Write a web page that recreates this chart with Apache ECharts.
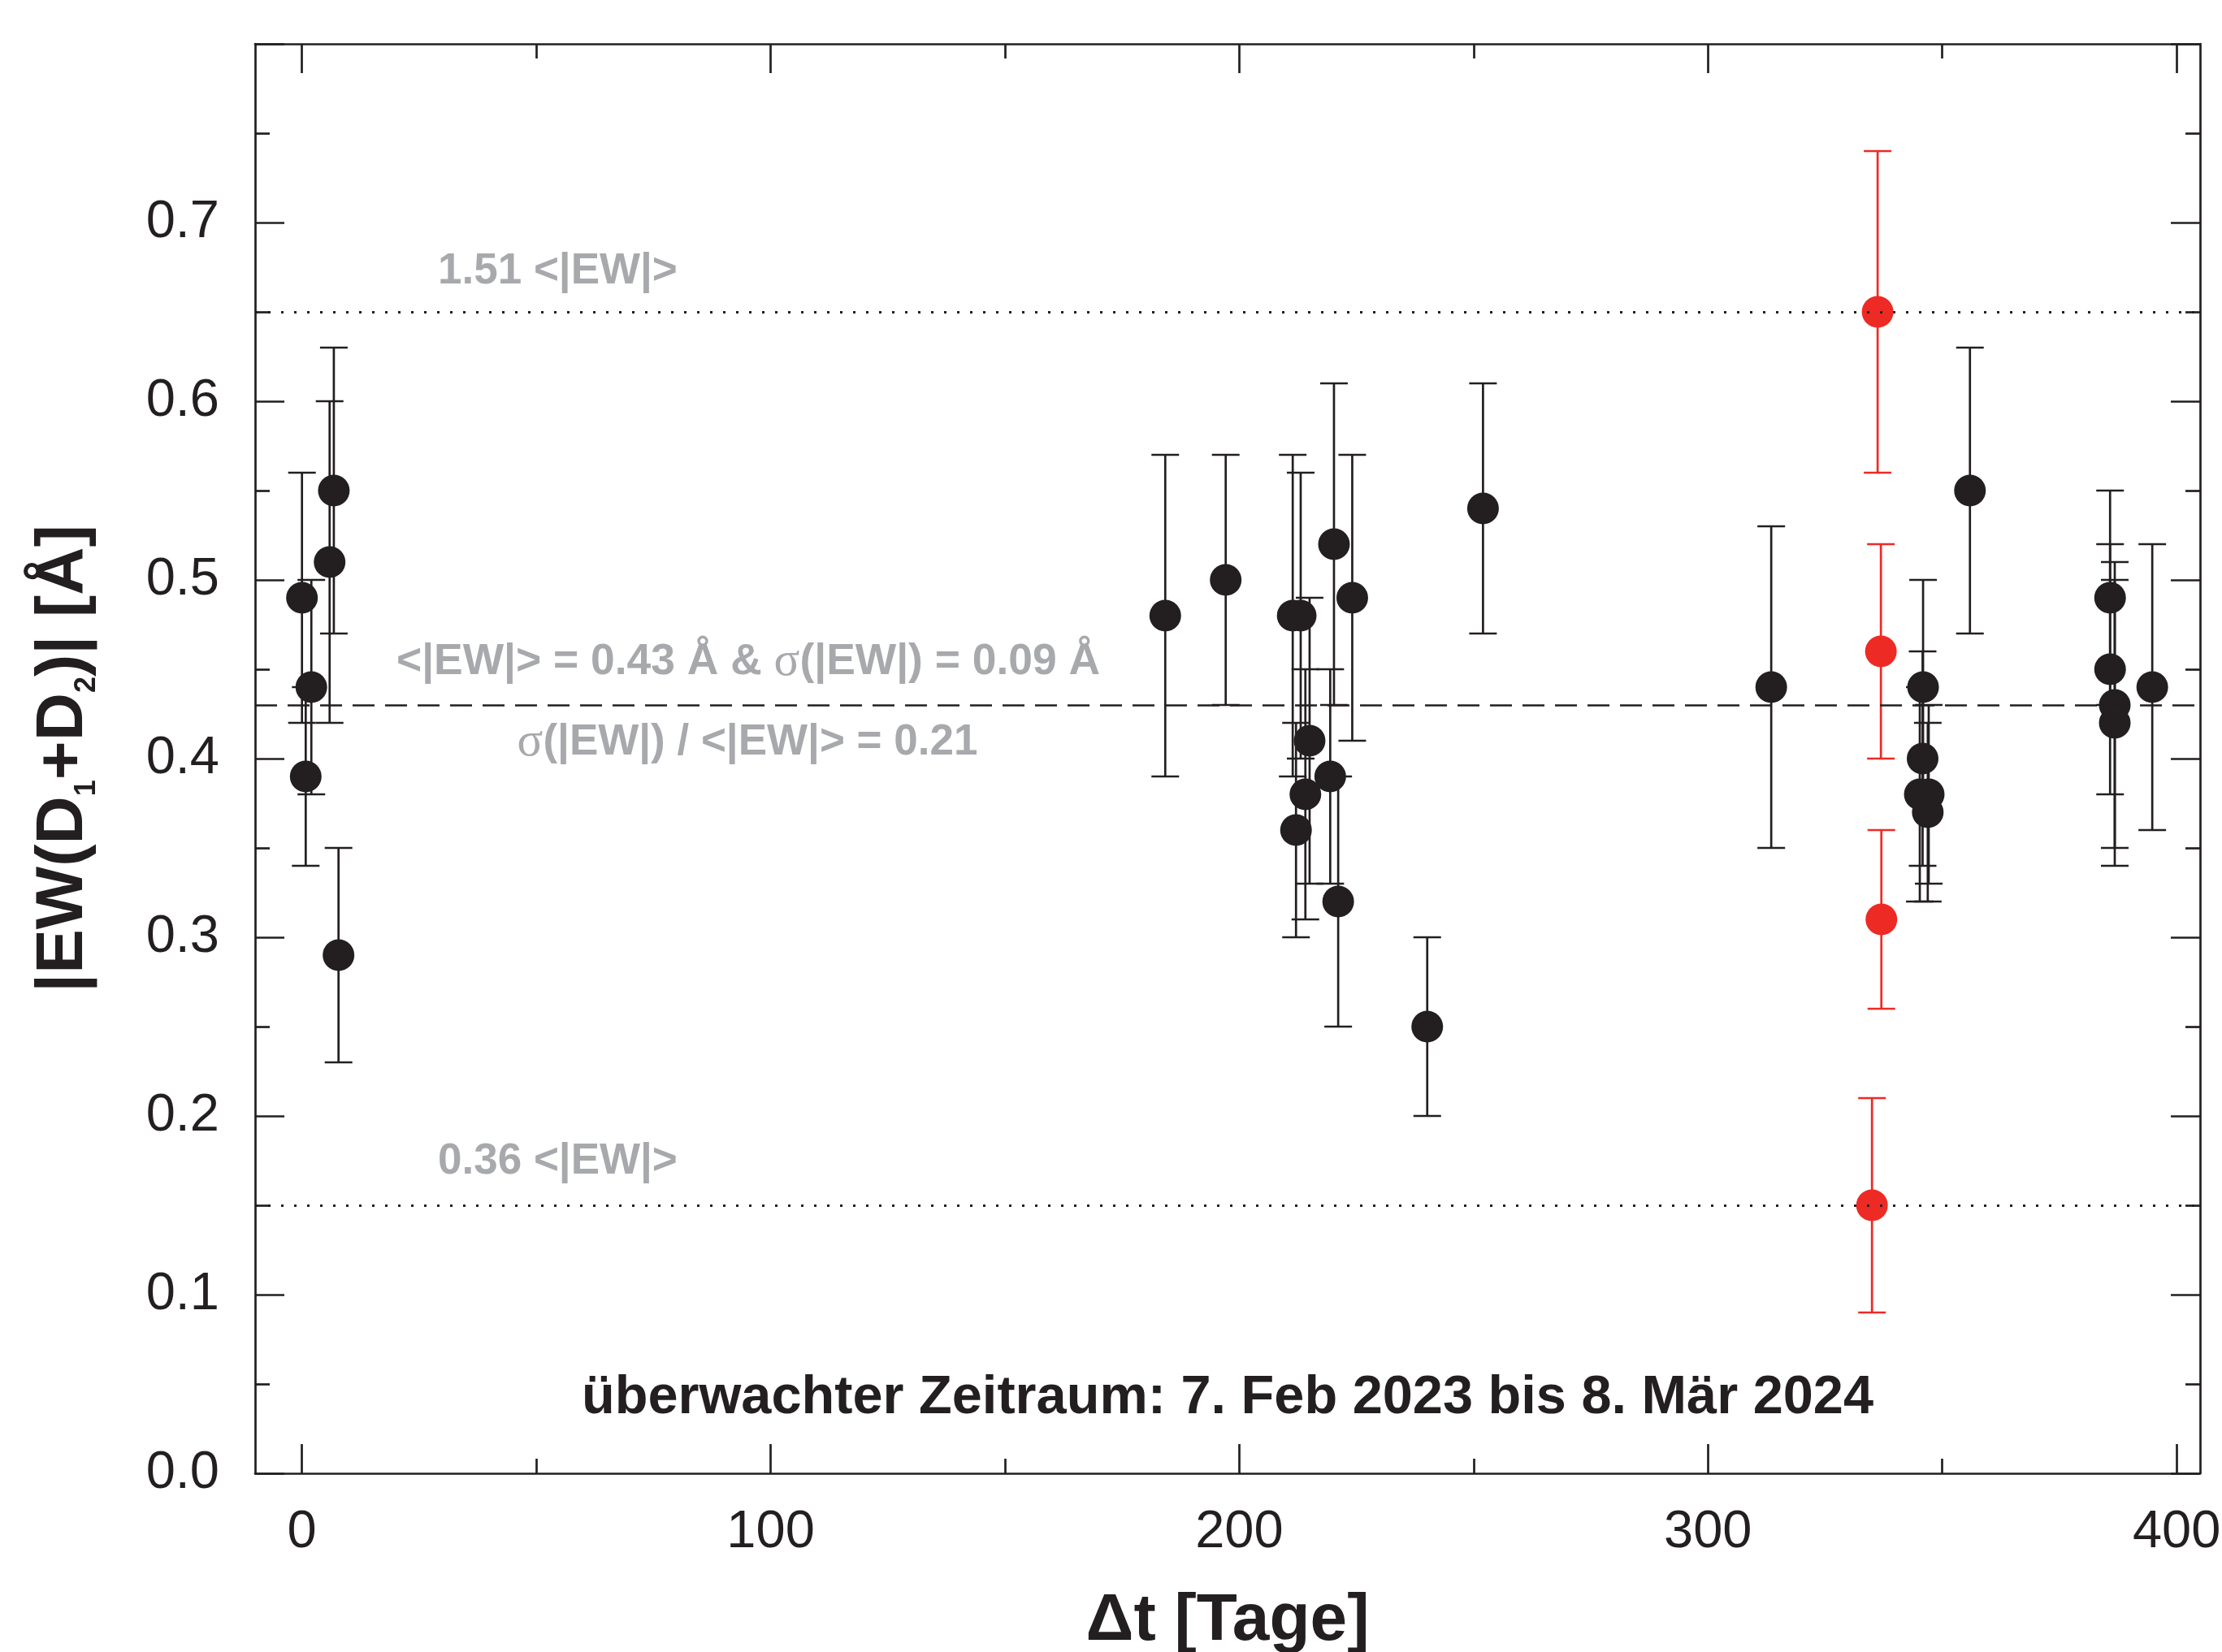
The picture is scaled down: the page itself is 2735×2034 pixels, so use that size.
<!DOCTYPE html>
<html>
<head>
<meta charset="utf-8">
<script src="https://cdn.jsdelivr.net/npm/echarts@6/dist/echarts.min.js"></script>
<style>
html,body{margin:0;padding:0;background:#ffffff;}
#chart{width:2735px;height:2034px;}
</style>
</head>
<body>
<div id="chart"></div>
<script>
// ---- data ----
const blackDays = [0, 0.8, 2, 5.9, 6.8, 7.8,
  184.2, 197.1, 211.4, 213.1, 220.2, 224.1, 215.0, 214.1, 212.1, 219.4, 221.1,
  240.1, 252.0, 313.5,
  345.9, 345.8, 345.2, 347.1, 346.9, 355.9,
  385.8, 385.8, 386.8, 386.8, 394.8];
const blackEW = [0.49, 0.39, 0.44, 0.51, 0.55, 0.29,
  0.48, 0.50, 0.48, 0.48, 0.52, 0.49, 0.41, 0.38, 0.36, 0.39, 0.32,
  0.25, 0.54, 0.44,
  0.44, 0.40, 0.38, 0.38, 0.37, 0.55,
  0.49, 0.45, 0.43, 0.42, 0.44];
const blackErr = [0.07, 0.05, 0.06, 0.09, 0.08, 0.06,
  0.09, 0.07, 0.09, 0.08, 0.09, 0.08, 0.08, 0.07, 0.06, 0.06, 0.07,
  0.05, 0.07, 0.09,
  0.06, 0.06, 0.06, 0.05, 0.05, 0.08,
  0.06, 0.07, 0.08, 0.08, 0.08];
const redDays = [336.2, 336.9, 337.0, 335.0];
const redEW = [0.65, 0.46, 0.31, 0.15];
const redErr = [0.09, 0.06, 0.05, 0.06];

const meanEW = 0.433;
const upperEW = 0.65;
const lowerEW = 0.15;

const xMajorTicks = [0, 100, 200, 300, 400];
const xMinorTicks = [50, 150, 250, 350];

// ---- styling ----
const INK = '#231f20';
const RED = '#ee2a24';
const GRAY = '#a7a9ac';
const FONT = '"Liberation Sans", Arial, sans-serif';
const SERIF = '"Liberation Serif", "DejaVu Serif", serif';

function errRender(color) {
  return function (params, api) {
    const x = api.value(0), y = api.value(1), e = api.value(2);
    const hi = api.coord([x, y + e]);
    const lo = api.coord([x, y - e]);
    const h = 17;
    const st = { stroke: color, lineWidth: 2.7 };
    return {
      type: 'group',
      children: [
        { type: 'line', shape: { x1: hi[0], y1: hi[1], x2: lo[0], y2: lo[1] }, style: st },
        { type: 'line', shape: { x1: hi[0] - h, y1: hi[1], x2: hi[0] + h, y2: hi[1] }, style: st },
        { type: 'line', shape: { x1: lo[0] - h, y1: lo[1], x2: lo[0] + h, y2: lo[1] }, style: st }
      ]
    };
  };
}

const blackData = blackDays.map((d, i) => [d, blackEW[i], blackErr[i]]);
const redData = redDays.map((d, i) => [d, redEW[i], redErr[i]]);

const lineStyleAxis = { color: INK, width: 2.7 };

function xAxisDef(position, ticks, len, labels, showLine) {
  return {
    type: 'value', min: -10, max: 405, position: position,
    axisLine: { show: showLine, onZero: false, lineStyle: lineStyleAxis },
    axisTick: { show: true, inside: true, length: len, customValues: ticks, lineStyle: lineStyleAxis },
    axisLabel: labels ? {
      show: true, customValues: ticks, fontSize: 65, fontFamily: FONT, color: INK, margin: 41
    } : { show: false },
    splitLine: { show: false }
  };
}

const chart = echarts.init(document.getElementById('chart'), null, { renderer: 'canvas' });

const xAxes = [
  xAxisDef('bottom', xMajorTicks, 36, true, true),
  xAxisDef('bottom', xMinorTicks, 18, false, false),
  xAxisDef('top', xMajorTicks, 36, false, true),
  xAxisDef('top', xMinorTicks, 18, false, false)
];
xAxes[0].name = 'Δt [Tage]';
xAxes[0].nameLocation = 'middle';
xAxes[0].nameGap = 141;
xAxes[0].nameTextStyle = { fontSize: 82, fontWeight: 'bold', fontFamily: FONT, color: INK };

function yAxisDef(position, labels) {
  const a = {
    type: 'value', min: 0, max: 0.8, interval: 0.1, position: position,
    axisLine: { show: true, onZero: false, lineStyle: lineStyleAxis },
    axisTick: { show: true, inside: true, length: 36, lineStyle: lineStyleAxis },
    minorTick: { show: true, splitNumber: 2, length: 18, lineStyle: lineStyleAxis },
    splitLine: { show: false },
    minorSplitLine: { show: false },
    axisLabel: labels ? {
      show: true, fontSize: 65, fontFamily: FONT, color: INK, margin: 44,
      showMaxLabel: false,
      formatter: v => v.toFixed(1)
    } : { show: false }
  };
  return a;
}
const yAxes = [yAxisDef('left', true), yAxisDef('right', false)];
yAxes[0].name = '|EW(D{s|1}+D{s|2})| [Å]';
yAxes[0].nameLocation = 'middle';
yAxes[0].nameRotate = 90;
yAxes[0].nameGap = 195;
yAxes[0].nameTextStyle = {
  fontSize: 82, fontWeight: 'bold', fontFamily: FONT, color: INK,
  rich: { s: { fontSize: 36, fontWeight: 'bold', fontFamily: FONT, color: INK, verticalAlign: 'bottom', padding: [0, 0, -6, 0] } }
};

const option = {
  backgroundColor: '#ffffff',
  animation: false,
  grid: { left: 314, right: 27, top: 54, bottom: 220, containLabel: false, outerBoundsMode: 'none' },
  xAxis: xAxes,
  yAxis: yAxes,
  series: [
    {
      type: 'custom', name: 'errBlack', xAxisIndex: 0, yAxisIndex: 0,
      renderItem: errRender(INK), data: blackData, encode: { x: 0, y: 1 }, z: 2, silent: true
    },
    {
      type: 'custom', name: 'errRed', xAxisIndex: 0, yAxisIndex: 0,
      renderItem: errRender(RED), data: redData, encode: { x: 0, y: 1 }, z: 2, silent: true
    },
    {
      type: 'scatter', name: 'black', xAxisIndex: 0, yAxisIndex: 0,
      data: blackDays.map((d, i) => [d, blackEW[i]]),
      symbol: 'circle', symbolSize: 39, itemStyle: { color: INK, opacity: 1 }, z: 3
    },
    {
      type: 'scatter', name: 'red', xAxisIndex: 0, yAxisIndex: 0,
      data: redDays.map((d, i) => [d, redEW[i]]),
      symbol: 'circle', symbolSize: 39, itemStyle: { color: RED, opacity: 1 }, z: 3
    },
    {
      type: 'line', name: 'refs', xAxisIndex: 0, yAxisIndex: 0, data: [], z: 5, silent: true,
      markLine: {
        silent: true, symbol: ['none', 'none'], label: { show: false },
        data: [
          { yAxis: upperEW, lineStyle: { color: INK, width: 3, type: [3, 13] } },
          { yAxis: lowerEW, lineStyle: { color: INK, width: 3, type: [3, 13] } },
          { yAxis: meanEW, lineStyle: { color: INK, width: 2.7, type: [27, 13] } }
        ]
      }
    }
  ],
  graphic: [
    { type: 'text', x: 539, y: 334, z: 10,
      style: { text: '1.51 <|EW|>', fontSize: 53, fontWeight: 'bold', fontFamily: FONT, fill: GRAY, align: 'left', verticalAlign: 'middle' } },
    { type: 'text', x: 539, y: 1430, z: 10,
      style: { text: '0.36 <|EW|>', fontSize: 53, fontWeight: 'bold', fontFamily: FONT, fill: GRAY, align: 'left', verticalAlign: 'middle' } },
    { type: 'text', x: 921, y: 815, z: 10,
      style: { text: '<|EW|> = 0.43 Å & {s|σ}(|EW|) = 0.09 Å', fontSize: 53.4, fontWeight: 'bold', fontFamily: FONT, fill: GRAY, align: 'center', verticalAlign: 'middle',
        rich: { s: { fontSize: 59, fontWeight: 'normal', fontFamily: SERIF, fill: GRAY } } } },
    { type: 'text', x: 920, y: 914, z: 10,
      style: { text: '{s|σ}(|EW|) / <|EW|> = 0.21', fontSize: 53, fontWeight: 'bold', fontFamily: FONT, fill: GRAY, align: 'center', verticalAlign: 'middle',
        rich: { s: { fontSize: 59, fontWeight: 'normal', fontFamily: SERIF, fill: GRAY } } } },
    { type: 'text', x: 1511, y: 1722, z: 10,
      style: { text: 'überwachter Zeitraum: 7. Feb 2023 bis 8. Mär 2024', fontSize: 66.7, fontWeight: 'bold', fontFamily: FONT, fill: INK, align: 'center', verticalAlign: 'middle' } }
  ]
};
chart.setOption(option);
</script>
</body>
</html>
